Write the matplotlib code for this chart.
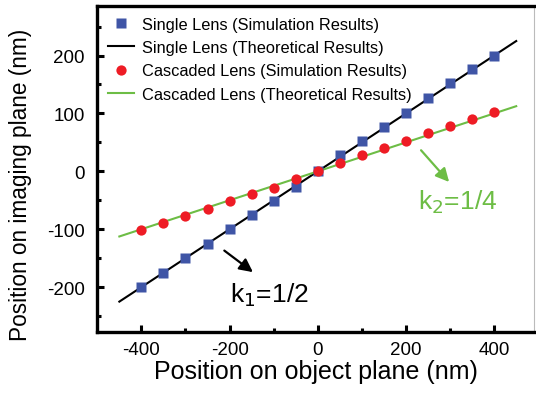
import matplotlib
matplotlib.use('Agg')
import matplotlib.pyplot as plt
import numpy as np

plt.rcParams['font.family'] = ['Liberation Sans', 'DejaVu Sans']
plt.rcParams['axes.unicode_minus'] = False

## data
x_sim = [-400, -350, -300, -250, -200, -150, -100, -50, 0, 50, 100, 150, 200, 250, 300, 350, 400]
single_sim = [-200, -175, -150, -126, -100, -76, -51, -27, 0, 28, 52, 77, 100, 126, 152, 176, 200]
cascade_sim = [-102, -90, -77, -65, -52, -40, -28, -14, 0, 15, 28, 40, 53, 66, 78, 91, 103]
x_theory = [-450, 450]
k1 = 1 / 2
k2 = 1 / 4

blue = '#3f55a6'
red = '#ee1c25'
green = '#6dbd45'

## figure
fig = plt.figure(figsize=(5.36, 4.02), dpi=100)
ax = fig.add_axes([97.3 / 536, 1 - 333.3 / 402, 437 / 536, 326 / 402])

xt = np.array(x_theory)
ax.plot(xt, k1 * xt, color='black', lw=1.5, zorder=2, label='Single Lens (Theoretical Results)')
ax.plot(xt, k2 * xt, color=green, lw=1.5, zorder=2, label='Cascaded Lens (Theoretical Results)')
ax.plot(x_sim, single_sim, 's', color=blue, ms=6.8, mec='none', zorder=3,
        label='Single Lens (Simulation Results)')
ax.plot(x_sim, cascade_sim, 'o', color=red, ms=7.4, mec='none', zorder=3,
        label='Cascaded Lens (Simulation Results)')

ax.set_xlim(-500, 491)
ax.set_ylim(-278, 285)
ax.set_xticks([-400, -200, 0, 200, 400])
ax.set_xticks([-300, -100, 100, 300], minor=True)
ax.set_yticks([-200, -100, 0, 100, 200])
ax.set_yticks([-250, -150, -50, 50, 150, 250], minor=True)
ax.tick_params(which='both', direction='in', width=2.2, top=False, right=False, labelsize=13.5)
ax.tick_params(which='major', length=5)
ax.tick_params(which='minor', length=3)
ax.tick_params(axis='x', pad=6)
ax.tick_params(axis='y', pad=9)

for s in ['left', 'bottom', 'top']:
    ax.spines[s].set_linewidth(2.4)
ax.spines['right'].set_color('#bbbbbb')
ax.spines['right'].set_linewidth(0.8)

ax.set_xlabel('Position on object plane (nm)', fontsize=18, labelpad=1)
ax.set_ylabel('Position on imaging plane (nm)', fontsize=16.3)
ax.yaxis.set_label_coords(-0.15, 0.455)

## legend
h, l = ax.get_legend_handles_labels()
order = [2, 0, 3, 1]
ax.legend([h[i] for i in order], [l[i] for i in order], loc='upper left', frameon=False,
          fontsize=11.8, handlelength=1.6, handletextpad=0.5, labelspacing=0.5,
          borderaxespad=0.25, bbox_to_anchor=(0.0, 1.0))

## arrows
ax.annotate('', xy=(-142, -177), xytext=(-217, -134),
            arrowprops=dict(arrowstyle='-|>', color='black', lw=1.6, mutation_scale=20))
ax.text(-110, -212, r'k$_1$=1/2', fontsize=19, ha='center', va='center', color='black')
ax.annotate('', xy=(302, -22), xytext=(230, 40),
            arrowprops=dict(arrowstyle='-|>', color=green, lw=1.6, mutation_scale=20))
ax.text(318, -52, r'k$_2$=1/4', fontsize=19, ha='center', va='center', color=green)

fig.savefig('out.png', dpi=100)
